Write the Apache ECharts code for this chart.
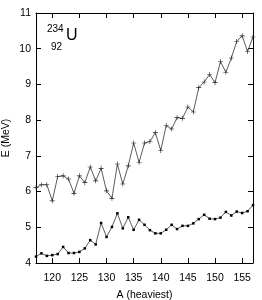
<!DOCTYPE html>
<html>
<head>
<meta charset="utf-8">
<script src="https://cdn.jsdelivr.net/npm/echarts@6/dist/echarts.min.js"></script>
<style>
html,body{margin:0;padding:0;background:#fff;}
#chart{width:262px;height:300px;}
</style>
</head>
<body>
<div id="chart"></div>
<script>
var massNumbers = [117,118,119,120,121,122,123,124,125,126,127,128,129,130,131,132,133,134,135,136,137,138,139,140,141,142,143,144,145,146,147,148,149,150,151,152,153,154,155,156,157];
var upperE = [6.11,6.19,6.19,5.74,6.42,6.44,6.35,5.95,6.44,6.25,6.69,6.30,6.65,6.02,5.81,6.77,6.21,6.72,7.36,6.82,7.36,7.40,7.65,7.15,7.85,7.75,8.07,8.05,8.37,8.23,8.91,9.07,9.28,9.05,9.64,9.34,9.74,10.20,10.36,9.92,10.33];
var lowerE = [4.18,4.27,4.20,4.22,4.25,4.45,4.28,4.28,4.31,4.41,4.64,4.52,5.12,4.73,5.01,5.39,4.97,5.28,4.93,5.21,5.07,4.92,4.83,4.83,4.93,5.07,4.95,5.04,5.04,5.11,5.23,5.35,5.24,5.23,5.27,5.43,5.33,5.44,5.40,5.45,5.62];
var xTicks = [120,125,130,135,140,145,150,155];
var yTicks = [4,5,6,7,8,9,10,11];

function pairs(xs, ys){ return xs.map(function(x,i){ return [x, ys[i]]; }); }

var font = 'Liberation Sans, Arial, sans-serif';
var lineC = '#000';
var chart = echarts.init(document.getElementById('chart'));
var plusPath = 'path://M4.4,0H5.6V4.4H10V5.6H5.6V10H4.4V5.6H0V4.4H4.4Z';

chart.setOption({
  animation: false,
  grid: {left: 36, right: 9, top: 13, bottom: 37, containLabel: false, outerBoundsMode: 'none'},
  xAxis: [{
    type: 'value', min: 117, max: 157,
    name: 'A (heaviest)', nameLocation: 'middle', nameGap: 27, nameMoveOverlap: false,
    nameTextStyle: {fontFamily: font, fontSize: 10.5, color: '#000'},
    axisLine: {show: true, lineStyle: {color: lineC, width: 1}},
    axisTick: {show: true, inside: true, length: 5, customValues: xTicks, lineStyle: {color: lineC}},
    axisLabel: {show: true, customValues: xTicks, margin: 10, fontFamily: font, fontSize: 10.5, color: '#000'},
    splitLine: {show: false}
  },{
    type: 'value', min: 117, max: 157, position: 'top',
    axisLine: {show: true, lineStyle: {color: lineC, width: 1}},
    axisTick: {show: true, inside: true, length: 5, customValues: xTicks, lineStyle: {color: lineC}},
    axisLabel: {show: false},
    splitLine: {show: false}
  }],
  yAxis: [{
    type: 'value', min: 4, max: 11, interval: 1,
    name: 'E (MeV)', nameLocation: 'middle', nameGap: 24, nameMoveOverlap: false,
    nameTextStyle: {fontFamily: font, fontSize: 10.5, color: '#000'},
    axisLine: {show: true, lineStyle: {color: lineC, width: 1}},
    axisTick: {show: true, inside: true, length: 5, lineStyle: {color: lineC}},
    axisLabel: {show: true, margin: 5, fontFamily: font, fontSize: 10.5, color: '#000'},
    splitLine: {show: false}
  },{
    type: 'value', min: 4, max: 11, interval: 1, position: 'right',
    axisLine: {show: true, lineStyle: {color: lineC, width: 1}},
    axisTick: {show: true, inside: true, length: 5, lineStyle: {color: lineC}},
    axisLabel: {show: false},
    splitLine: {show: false}
  }],
  graphic: [
    {type: 'text', left: 47, top: 24, style: {text: '234', font: '10px ' + font, fill: '#000'}},
    {type: 'text', left: 51, top: 42, style: {text: '92', font: '10px ' + font, fill: '#000'}},
    {type: 'text', left: 66, top: 28, style: {text: 'U', font: '16px ' + font, fill: '#000'}}
  ],
  series: [{
    type: 'line', data: pairs(massNumbers, upperE),
    symbol: plusPath, symbolSize: 5, showSymbol: true,
    lineStyle: {color: '#333', width: 0.8},
    itemStyle: {color: '#222'}
  },{
    type: 'line', data: pairs(massNumbers, lowerE),
    symbol: 'rect', symbolSize: 2.5, showSymbol: true,
    lineStyle: {color: '#333', width: 0.8},
    itemStyle: {color: '#000'}
  }]
});
</script>
</body>
</html>
